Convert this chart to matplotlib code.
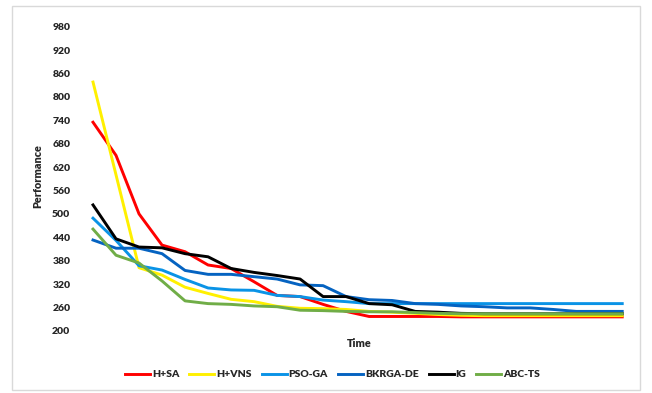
import numpy as np
import matplotlib
matplotlib.use("Agg")
import matplotlib.pyplot as plt
from matplotlib.patches import Rectangle

# values (24 time steps)
h_sa = [735, 650, 500, 420, 403, 369, 360, 326, 291, 288, 268, 250,
        237, 237, 237, 237, 236, 236, 236, 236, 236, 236, 236, 236]
h_vns = [838, 600, 362, 343, 312, 296, 281, 275, 263, 258, 257, 255,
         250, 248, 245, 242, 240, 239, 239, 239, 239, 239, 239, 239]
pso_ga = [489, 432, 367, 356, 332, 310, 305, 304, 291, 288, 279, 275,
          270, 270, 270, 270, 270, 270, 270, 270, 270, 270, 270, 270]
bkrga_de = [433, 412, 412, 398, 355, 345, 345, 339, 333, 318, 316, 288,
            280, 278, 270, 268, 264, 262, 259, 259, 255, 250, 250, 250]
ig = [523, 436, 415, 413, 398, 390, 360, 350, 342, 333, 288, 288,
      270, 267, 250, 248, 245, 244, 244, 244, 244, 244, 244, 244]
abc_ts = [461, 394, 374, 328, 277, 270, 268, 264, 262, 253, 252, 250,
          249, 249, 247, 245, 244, 244, 244, 244, 244, 244, 244, 244]

names = ["H+SA", "H+VNS", "PSO-GA", "BKRGA-DE", "IG", "ABC-TS"]
colors = ["#FF0000", "#FFF000", "#0A93E6", "#0563C1", "#000000", "#70AD47"]
y_ticks = list(range(200, 1000, 60))

plt.rcParams['font.family'] = ['Lato', 'DejaVu Sans']

fig = plt.figure(figsize=(6.52, 3.93), dpi=100)
ax = fig.add_axes([0.125, 0.158, 0.847, 0.794])

x = np.arange(len(h_sa))
for data, name, c in zip([h_sa, h_vns, pso_ga, bkrga_de, ig, abc_ts], names, colors):
    ax.plot(x, data, color=c, lw=2.1, label=name)

ax.set_xlim(-0.5, len(h_sa) - 0.5)
ax.set_ylim(200, 1000)
ax.set_yticks(y_ticks)
ax.set_yticklabels([str(v) for v in y_ticks], fontsize=7.5, fontweight='heavy', color='#262626')
ax.set_xticks([])
ax.tick_params(axis='y', length=0, pad=8)
for s in ax.spines.values():
    s.set_visible(False)

fig.text(0.058, 0.553, "Performance", rotation=90, ha='center', va='center',
         fontsize=7.8, fontweight='heavy', color='#262626')
fig.text(0.551, 0.127, "Time", ha='center', va='center',
         fontsize=7.8, fontweight='heavy', color='#262626')

leg = fig.legend(loc='center', bbox_to_anchor=(0.51, 0.047), ncol=6, frameon=False,
                 handlelength=2.4, handletextpad=0.2, columnspacing=0.95,
                 prop={'size': 7.5, 'weight': 'heavy'})
for t in leg.get_texts():
    t.set_color('#262626')

# outer chart border
fig.patches.append(Rectangle((12 / 652, 1 - 390 / 393), 628 / 652, 384 / 393,
                             transform=fig.transFigure, fill=False,
                             edgecolor='#D9D9D9', lw=1))

fig.savefig("out.png", dpi=100)
